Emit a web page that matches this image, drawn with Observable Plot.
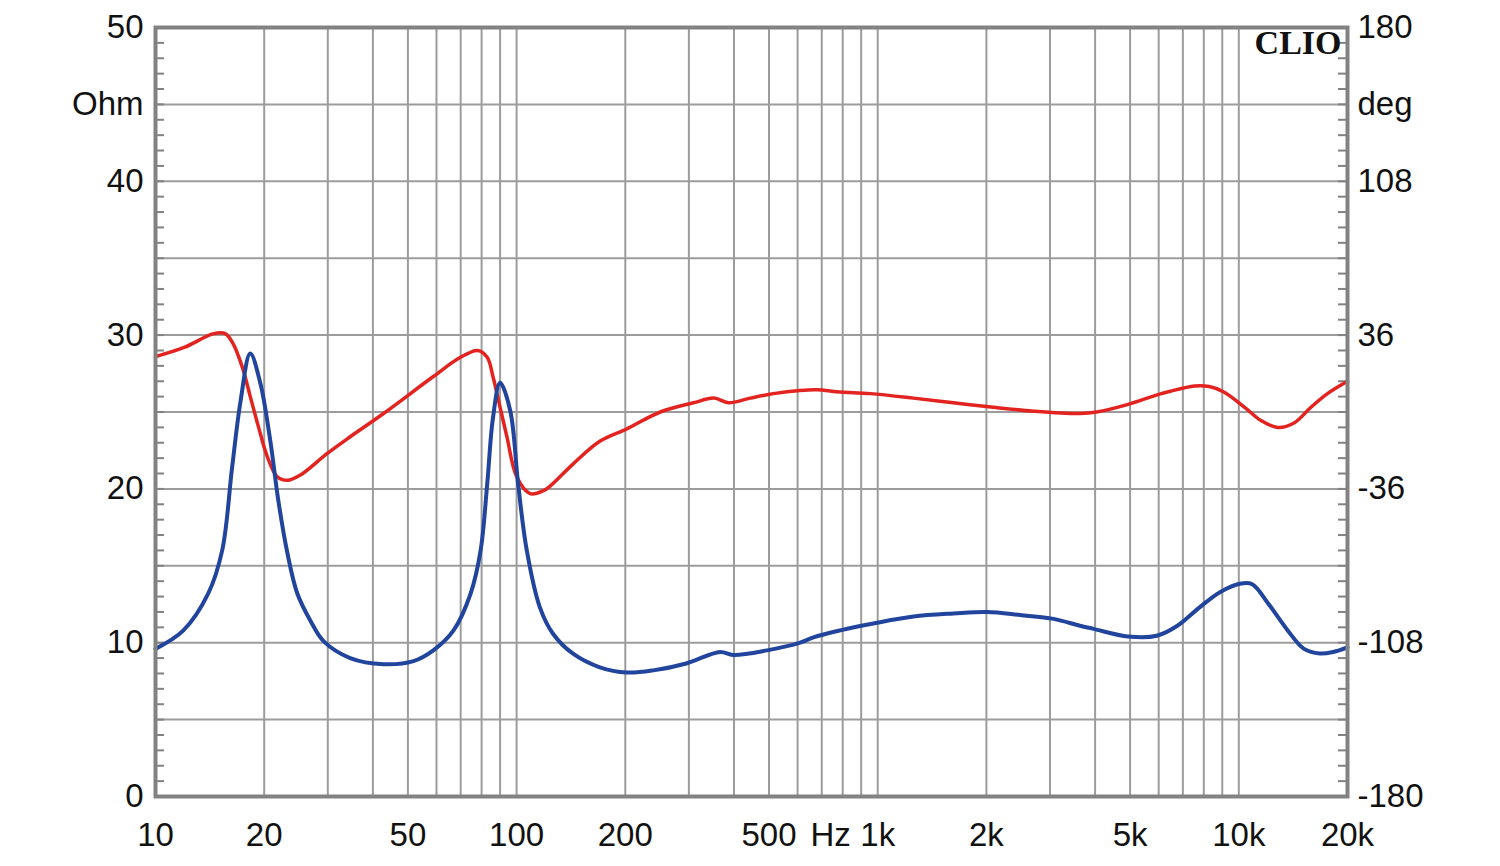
<!DOCTYPE html>
<html>
<head>
<meta charset="utf-8">
<script src="https://cdn.jsdelivr.net/npm/d3@7"></script>
<script src="https://cdn.jsdelivr.net/npm/@observablehq/plot@0.6"></script>
<style>
  html, body { margin: 0; padding: 0; background: #fff; }
  #chart svg { display: block; }
</style>
</head>
<body>
<div id="chart"></div>
<script>
// Impedance magnitude (Ohm), blue curve
const zFreq = [10, 11.95, 14.0, 15.3, 16.3, 17.2, 18.3, 19.5, 20.8, 21.9, 23.2, 24.7, 26.9, 29.2, 34.6, 42.8, 51.8, 58.8, 66.9, 74.6, 79.5, 82.9, 86, 90, 96, 101, 106.7, 116, 126, 143, 170, 202, 239, 295, 366, 398, 494, 610, 664, 787, 973, 1256, 1620, 2010, 2480, 3070, 3630, 3960, 4940, 5930, 6760, 7790, 8890, 10150, 10900, 12060, 13660, 15160, 16760, 18260, 20000];
const zOhm  = [9.6, 10.8, 13.2, 16.0, 21.4, 25.7, 28.8, 26.9, 23.1, 19.2, 15.8, 13.2, 11.4, 10.1, 9.0, 8.6, 8.8, 9.5, 10.8, 13.2, 16.0, 20.3, 24.6, 26.9, 25.1, 20.3, 16.0, 12.3, 10.6, 9.3, 8.4, 8.06, 8.2, 8.65, 9.4, 9.2, 9.5, 10.0, 10.35, 10.8, 11.25, 11.7, 11.9, 12.0, 11.8, 11.55, 11.1, 10.9, 10.4, 10.45, 11.1, 12.3, 13.3, 13.85, 13.8, 12.55, 10.8, 9.6, 9.3, 9.4, 9.7];

// Phase (deg), red curve
const pFreq = [10, 12, 14.5, 15.6, 16.4, 17.4, 18.3, 19.3, 20.4, 21.7, 23.2, 25.2, 29.9, 34.6, 42.8, 58.8, 69.9, 78, 82.9, 86, 90, 94, 100, 109, 119, 124, 143, 170, 202, 250, 309, 352, 386, 444, 514, 610, 679, 787, 954, 1256, 1620, 2090, 2700, 3630, 4040, 4940, 6100, 7560, 8280, 9090, 10380, 11520, 12820, 14260, 15840, 17600, 20000];
const pDeg  = [25.9, 30.2, 36.7, 36.7, 32.0, 20.9, 7.2, -7.2, -20.9, -30.2, -32.0, -29.5, -19.4, -11.6, -0.7, 16.6, 25.6, 28.8, 25.6, 16.6, 2.2, -11.5, -30.2, -38.2, -36.7, -34.6, -24.5, -13.7, -7.9, 0, 4.3, 6.5, 4.3, 6.5, 8.6, 10.1, 10.4, 9.4, 8.6, 6.5, 4.3, 2.2, 0.4, -0.7, 0, 3.6, 8.6, 12.2, 11.9, 9.4, 2.2, -4.0, -7.2, -5.0, 2.2, 8.6, 14.4];

// Axes
const gridFreqs = [10,20,30,40,50,60,70,80,90,100,200,300,400,500,600,700,800,900,1000,2000,3000,4000,5000,6000,7000,8000,9000,10000,20000];
const freqTicks = [10, 20, 50, 100, 200, 500, 1000, 2000, 5000, 10000, 20000];
const freqLabels = ["10", "20", "50", "100", "200", "500", "1k", "2k", "5k", "10k", "20k"];
const gridOhms = [5, 10, 15, 20, 25, 30, 35, 40, 45];
const ohmTicks = [0, 10, 20, 30, 40, 50];
const degLabels = ["-180", "-108", "-36", "36", "108", "180"];
const minorOhms = d3.range(1, 50);

const zData = zFreq.map((f, i) => ({f, v: zOhm[i]}));
const pData = pFreq.map((f, i) => ({f, v: pDeg[i]}));
const degToOhmScale = d => (d + 180) / 7.2; // right axis -180..180 maps to 0..50

const freqLabelMap = new Map(freqTicks.map((t, i) => [t, freqLabels[i]]));
const degLabelMap = new Map(ohmTicks.map((t, i) => [t, degLabels[i]]));

const W = 1500, H = 866, mL = 155, mR = 153, mT = 27, mB = 70;
const innerW = W - mL - mR;
const tickLen = 9;
const gridColor = "#9c9c9c";
const frameColor = "#828282";
const font = "'Liberation Sans', Arial, sans-serif";
const fs = 33;

const chart = Plot.plot({
  width: W, height: H,
  marginLeft: mL, marginRight: mR, marginTop: mT, marginBottom: mB,
  x: {type: "log", domain: [10, 20000], label: null},
  y: {domain: [0, 50], label: null},
  style: {fontFamily: font, fontSize: fs + "px", color: "#111", background: "#fff"},
  marks: [
    Plot.ruleX(gridFreqs, {stroke: gridColor, strokeWidth: 2}),
    Plot.ruleY(gridOhms, {stroke: gridColor, strokeWidth: 2}),
    Plot.ruleY(minorOhms, {insetRight: innerW - tickLen, stroke: frameColor, strokeWidth: 2}),
    Plot.ruleY(minorOhms, {insetLeft: innerW - tickLen, stroke: frameColor, strokeWidth: 2}),
    Plot.line(pData, {x: "f", y: d => degToOhmScale(d.v), stroke: "#e3231f", strokeWidth: 3.5, curve: "catmull-rom"}),
    Plot.line(zData, {x: "f", y: "v", stroke: "#21449d", strokeWidth: 4, curve: "catmull-rom"}),
    Plot.frame({stroke: frameColor, strokeWidth: 4}),
    Plot.axisY(ohmTicks, {anchor: "left", label: null, tickSize: 0, tickPadding: 12, fontSize: fs, fill: "#111"}),
    Plot.axisY(ohmTicks, {anchor: "right", label: null, tickSize: 0, tickPadding: 10, fontSize: fs, fill: "#111", tickFormat: d => degLabelMap.get(d)}),
    Plot.axisX(freqTicks, {anchor: "bottom", label: null, tickSize: 0, tickPadding: 26, fontSize: fs, fill: "#111", tickFormat: d => freqLabelMap.get(d)}),
    Plot.text(["Ohm"], {y: 45, frameAnchor: "left", dx: -12, textAnchor: "end", fontSize: fs, fill: "#111"}),
    Plot.text(["deg"], {y: 45, frameAnchor: "right", dx: 10, textAnchor: "start", fontSize: fs, fill: "#111"}),
    Plot.text(["Hz"], {x: 1000, frameAnchor: "bottom", dx: -47, dy: 26, lineAnchor: "top", fontSize: fs, fill: "#111"}),
    Plot.text(["CLIO"], {frameAnchor: "top-right", dx: -6, dy: 2, lineAnchor: "top", textAnchor: "end", fontSize: 34, fontWeight: "bold", fontFamily: "'Liberation Serif', 'DejaVu Serif', serif", fill: "#111", letterSpacing: "2px"})
  ]
});

document.getElementById("chart").appendChild(chart);
</script>
</body>
</html>
